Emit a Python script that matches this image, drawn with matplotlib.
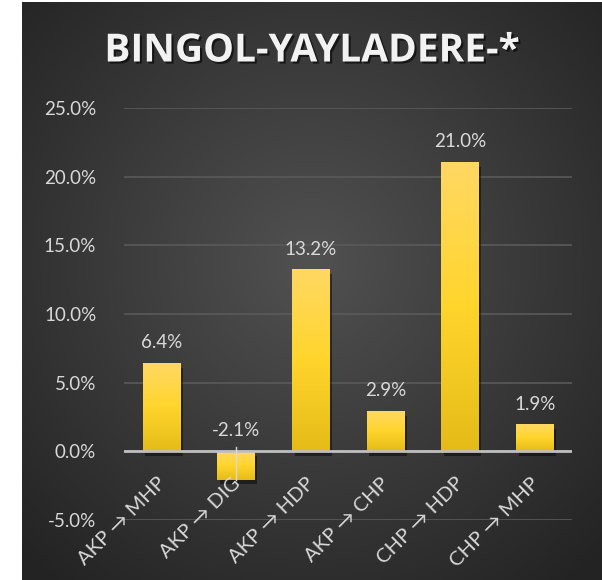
import numpy as np
import matplotlib
matplotlib.use('Agg')
import matplotlib.pyplot as plt
import matplotlib.patheffects as pe
from matplotlib.colors import LinearSegmentedColormap

# data
categories = ["AKP \u2192 MHP", "AKP \u2192 DIG", "AKP \u2192 HDP",
              "AKP \u2192 CHP", "CHP \u2192 HDP", "CHP \u2192 MHP"]
values = [0.064, -0.021, 0.132, 0.029, 0.210, 0.019]
yticks = [-0.05, 0.0, 0.05, 0.10, 0.15, 0.20, 0.25]
title = "BINGOL-YAYLADERE-*"

plt.rcParams['font.family'] = ['Lato', 'DejaVu Sans']
txt_color = '#d9d9d9'

fig = plt.figure(figsize=(6.02, 5.8), dpi=100, facecolor='white')

# dark radial background panel
bg = fig.add_axes([22 / 602, 0, 580 / 602, 578 / 580])
bg.set_axis_off()
yy, xx = np.mgrid[0:1:300j, 0:1:300j]
r = np.sqrt((xx - 0.5) ** 2 + (yy - 0.45) ** 2) / 0.72
bg_cmap = LinearSegmentedColormap.from_list('bg', ['#515151', '#3a3a3a', '#232323'])
bg.imshow(r, cmap=bg_cmap, vmin=0, vmax=1, aspect='auto', extent=(0, 1, 0, 1))
bg.set_xlim(0, 1)
bg.set_ylim(0, 1)

ax = fig.add_axes([124 / 602, 60 / 580, 448 / 602, 412 / 580])
ax.patch.set_alpha(0)
x = np.arange(len(categories))
bars = ax.bar(x, values, width=0.5, color='#fed42c', zorder=3,
              path_effects=[pe.SimplePatchShadow(offset=(2, -3), shadow_rgbFace='black', alpha=0.45),
                            pe.Normal()])

bar_cmap = LinearSegmentedColormap.from_list('bar', ['#ffd862', '#ffd52c', '#e5bb18'])
grad = np.linspace(0, 1, 100).reshape(-1, 1)
for b in bars:
    x0 = b.get_x()
    x1 = x0 + b.get_width()
    top = max(0, b.get_y() + b.get_height(), b.get_y())
    bot = min(b.get_y(), b.get_y() + b.get_height())
    ax.imshow(grad, cmap=bar_cmap, aspect='auto', extent=(x0, x1, bot, top),
              origin='upper', zorder=4)

ax.set_xlim(-0.5, len(categories) - 0.5)
ax.set_ylim(-0.05, 0.25)
ax.set_yticks(yticks)
ax.set_yticklabels(['%.1f%%' % (t * 100) for t in yticks], color=txt_color, fontsize=13.5)
ax.tick_params(axis='y', length=0, pad=20)
ax.set_xticks([])
for s in ax.spines.values():
    s.set_visible(False)
ax.grid(axis='y', color='#5a5a5a', linewidth=1.2, zorder=1)
ax.axhline(0, color='#bfbfbf', linewidth=2, zorder=5)

# leader line on negative label
ax.plot([1, 1], [0.003, values[1]], color='#d9d9d9', linewidth=1, zorder=6)

for i, v in enumerate(values):
    ax.annotate('%.1f%%' % (v * 100), (i, max(v, 0)), xytext=(0, 9), textcoords='offset points',
                ha='center', va='bottom', color=txt_color, fontsize=13.5, zorder=7)
    ax.annotate(categories[i], (i, 0), xytext=(1, -21), textcoords='offset points',
                ha='right', va='center', rotation=45, rotation_mode='anchor',
                color=txt_color, fontsize=14.5, zorder=7)

fig.text(312 / 602, 1 - 51 / 580, title, ha='center', va='center', color='#f2f2f2',
         fontsize=28, fontweight='bold', family=['Open Sans', 'DejaVu Sans'],
         path_effects=[pe.withSimplePatchShadow(offset=(1.5, -1.5), shadow_rgbFace='black', alpha=0.6)])

fig.savefig('out.png', dpi=100, facecolor='white')
